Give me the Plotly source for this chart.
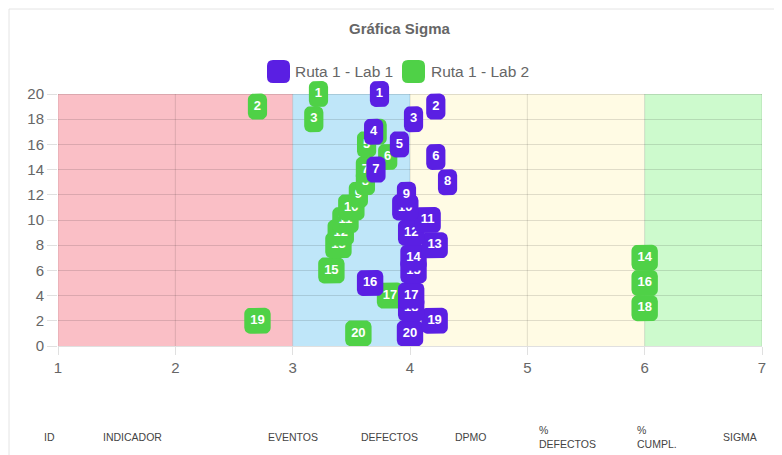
import math
import plotly.graph_objects as go

# ---------------- data ----------------
title_text = "Gráfica Sigma"
series_names = ["Ruta 1 - Lab 1", "Ruta 1 - Lab 2"]
series_colors = ["#5a1fe3", "#4fd147"]

point_ids = [1, 2, 3, 4, 5, 6, 7, 8, 9, 10, 11, 12, 13, 14, 15, 16, 17, 18, 19, 20]
point_y = [20, 19, 18, 17, 16, 15, 14, 13, 12, 11, 10, 9, 8, 7, 6, 5, 4, 3, 2, 1]
lab1_sigma = [3.74, 4.22, 4.03, 3.69, 3.91, 4.22, 3.71, 4.32, 3.97, 3.96,
              4.15, 4.01, 4.21, 4.03, 4.03, 3.66, 4.01, 4.01, 4.21, 4.00]
lab2_sigma = [3.22, 2.70, 3.18, 3.72, 3.63, 3.81, 3.62, 3.62, 3.56, 3.50,
              3.45, 3.41, 3.39, 6.00, 3.33, 6.00, 3.83, 6.00, 2.70, 3.56]

x_ticks = [1, 2, 3, 4, 5, 6, 7]
y_ticks = [0, 2, 4, 6, 8, 10, 12, 14, 16, 18, 20]

band_edges = [1, 3, 4, 6, 7]
band_colors = ["rgba(249,180,188,0.85)", "rgba(180,226,248,0.85)",
               "rgba(255,251,228,1)", "rgba(205,250,205,1)"]

table_headers = ["ID", "INDICADOR", "EVENTOS", "DEFECTOS", "DPMO",
                 "%<br>DEFECTOS", "%<br>CUMPL.", "SIGMA"]
table_header_px = [42, 101, 266, 359, 453, 537, 635, 721]

# ---------------- geometry ----------------
OFF = 8                        # page body margin
W, H = 782 - OFF, 455 - OFF
ML = 58 - OFF
MR = W - (762 - OFF)
MT = 60 - OFF
MB = H - (346 - OFF)
PW = W - ML - MR
PH = H - MT - MB
Y_PX_PER_UNIT = 12.6           # 0..20 spans 252 px
Y_TOP = PH / Y_PX_PER_UNIT
X_MIN, X_MAX = x_ticks[0], x_ticks[-1]
SX = PW / (X_MAX - X_MIN)
SY = PH / Y_TOP

BOX_H = 26
BOX_R = 6
PAD = 6
DIGIT_W = 7.2


def px_to_paper_x(px):
    return (px - OFF - ML) / PW


def px_to_paper_y(py):
    return (H - MB - (py - OFF)) / PH


def rounded_poly(cx, cy, w, h, r, n=6):
    hw, hh = w / 2.0, h / 2.0
    corners = [(hw - r, hh - r, 0), (-(hw - r), hh - r, 90),
               (-(hw - r), -(hh - r), 180), (hw - r, -(hh - r), 270)]
    xs, ys = [], []
    for ccx, ccy, a0 in corners:
        for k in range(n + 1):
            a = math.radians(a0 + 90.0 * k / n)
            xs.append(cx + (ccx + r * math.cos(a)) / SX)
            ys.append(cy + (ccy + r * math.sin(a)) / SY)
    xs.append(xs[0])
    ys.append(ys[0])
    return xs, ys


def rounded_path(w, h, r):
    hw, hh = w / 2.0, h / 2.0
    return (f"M {-hw + r},{-hh} H {hw - r} Q {hw},{-hh} {hw},{-hh + r} "
            f"V {hh - r} Q {hw},{hh} {hw - r},{hh} H {-hw + r} "
            f"Q {-hw},{hh} {-hw},{hh - r} V {-hh + r} Q {-hw},{-hh} {-hw + r},{-hh} Z")


fig = go.Figure()

# draw green (Lab 2) first, purple (Lab 1) on top; within a series last id first
for sx_vals, color in [(lab2_sigma, series_colors[1]), (lab1_sigma, series_colors[0])]:
    for i in reversed(range(len(point_ids))):
        label = str(point_ids[i])
        w = DIGIT_W * len(label) + 2 * PAD
        xs, ys = rounded_poly(sx_vals[i], point_y[i], w, BOX_H, BOX_R)
        xs = xs + [None, sx_vals[i]]
        ys = ys + [None, point_y[i]]
        texts = [""] * (len(xs) - 1) + [label]
        fig.add_trace(go.Scatter(
            x=xs, y=ys, mode="lines+text", fill="toself", fillcolor=color,
            line=dict(width=0, color=color), text=texts,
            textposition="middle center",
            textfont=dict(family="Liberation Sans, Arial, sans-serif", size=13,
                          color="white", weight="bold"),
            cliponaxis=False, showlegend=False, hoverinfo="skip"))

shapes = []
# background bands
for k in range(len(band_colors)):
    shapes.append(dict(type="rect", xref="x", yref="y", layer="below",
                       x0=band_edges[k], x1=band_edges[k + 1], y0=0, y1=y_ticks[-1],
                       fillcolor=band_colors[k], line=dict(width=0)))
# vertical gridlines (only inside 0..20)
for xv in x_ticks:
    shapes.append(dict(type="line", xref="x", yref="y", layer="below",
                       x0=xv, x1=xv, y0=0, y1=y_ticks[-1],
                       line=dict(color="rgba(0,0,0,0.12)", width=1)))

# card border
shapes.append(dict(type="rect", xref="paper", yref="paper", layer="below",
                   x0=px_to_paper_x(9), x1=px_to_paper_x(800),
                   y0=px_to_paper_y(470), y1=px_to_paper_y(9),
                   line=dict(color="#e4e4e4", width=1), fillcolor="rgba(0,0,0,0)"))

annotations = []
# legend (manual)
legend_y_px = 71.5
legend_items = [(278.5, 293, series_names[0], series_colors[0]),
                (413.5, 429, series_names[1], series_colors[1])]
for bx, tx, name, color in legend_items:
    shapes.append(dict(type="path", xref="paper", yref="paper",
                       xsizemode="pixel", ysizemode="pixel",
                       xanchor=px_to_paper_x(bx), yanchor=px_to_paper_y(legend_y_px),
                       path=rounded_path(23, 23, 6), fillcolor=color,
                       line=dict(width=0), layer="above"))
    annotations.append(dict(xref="paper", yref="paper", x=px_to_paper_x(tx),
                            y=px_to_paper_y(legend_y_px), xanchor="left",
                            yanchor="middle", showarrow=False, text=name,
                            font=dict(family="Liberation Sans, Arial, sans-serif",
                                      size=15.5, color="#666666")))

# title
annotations.append(dict(xref="paper", yref="paper", x=px_to_paper_x(400),
                        y=px_to_paper_y(28), xanchor="center", yanchor="middle",
                        showarrow=False, text="<b>" + title_text + "</b>",
                        font=dict(family="Liberation Sans Narrow, Liberation Sans, Arial",
                                  size=15, color="#666666")))

# table header
for txt, px in zip(table_headers, table_header_px):
    annotations.append(dict(xref="paper", yref="paper", x=px_to_paper_x(px),
                            y=px_to_paper_y(437), xanchor="left", yanchor="middle",
                            showarrow=False, text=txt, align="left",
                            font=dict(family="Liberation Sans, Arial, sans-serif",
                                      size=10.5, color="#444444")))

fig.update_layout(
    width=W, height=H, autosize=False,
    margin=dict(l=ML, r=MR, t=MT, b=MB, pad=0),
    paper_bgcolor="white", plot_bgcolor="white",
    showlegend=False, hovermode=False,
    shapes=shapes, annotations=annotations,
    font=dict(family="Liberation Sans, Arial, sans-serif", color="#666666"),
    xaxis=dict(range=[X_MIN, X_MAX], tickvals=x_ticks, showgrid=False,
               zeroline=False, showline=True, linecolor="rgba(0,0,0,0.12)",
               ticks="outside", ticklen=8, tickcolor="rgba(0,0,0,0.12)",
               tickfont=dict(size=15, color="#666666")),
    yaxis=dict(range=[0, Y_TOP], tickvals=y_ticks, showgrid=True,
               gridcolor="rgba(0,0,0,0.12)", zeroline=False, showline=False,
               ticks="outside", ticklen=10, tickcolor="rgba(0,0,0,0.12)",
               tickfont=dict(size=15, color="#666666")),
)

fig.write_html("out.html")
